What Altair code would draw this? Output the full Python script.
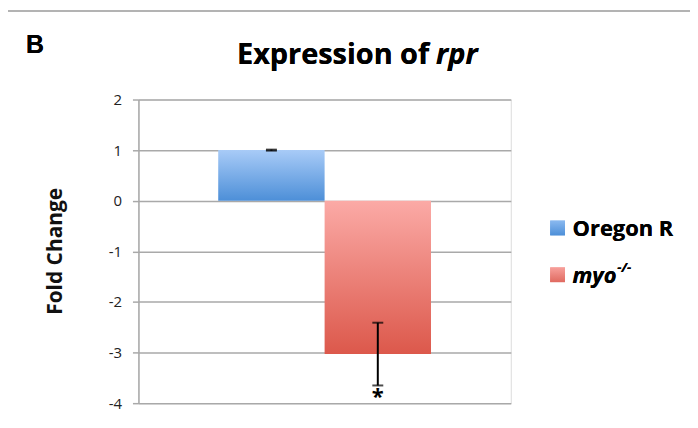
import altair as alt
import pandas as pd

series = ["Oregon R", "myo"]
values = [1.0, -3.03]
errors = [0.01, 0.62]
y_ticks = [-4, -3, -2, -1, 0, 1, 2]

df = pd.DataFrame({"series": series, "value": values, "err": errors})
df["lo"] = df["value"] - df["err"]
df["hi"] = df["value"] + df["err"]

FONT = "Open Sans"

def grad(top, bottom):
    return alt.Gradient(
        gradient="linear",
        stops=[alt.GradientStop(color=top, offset=0), alt.GradientStop(color=bottom, offset=1)],
        x1=0, x2=0, y1=0, y2=1,
    )

blue_g = grad("#a8cbf7", "#4d8fd8")
red_g = grad("#fbaaa6", "#dc584b")

xscale = alt.Scale(domain=series, paddingInner=0, paddingOuter=0.75)
x_enc = alt.X("series:N", scale=xscale, axis=None)
yscale = alt.Scale(domain=[-4, 2], nice=False, zero=False)
y_enc = alt.Y(
    "value:Q",
    scale=yscale,
    axis=alt.Axis(
        values=y_ticks, grid=True, gridColor="#a9a9a9", gridWidth=1.5,
        domainColor="#a9a9a9", domainWidth=1.5, tickColor="#a9a9a9", tickWidth=1.5, tickSize=6,
        labelExpr="datum.value + ''",
        labelFont=FONT, labelFontSize=15, labelColor="#222", labelPadding=11,
        title="Fold Change", titleFont=FONT, titleFontSize=21, titleFontWeight="bold",
        titleColor="#111", titleAngle=-90, titleX=-77, titleY=152, titleAlign="center",
        titleBaseline="alphabetic",
    ),
)

base = alt.Chart(df)

bar_blue = base.transform_filter(alt.datum.series == series[0]).mark_bar(color=blue_g).encode(x=x_enc, y=y_enc, y2=alt.datum(0))
bar_red = base.transform_filter(alt.datum.series == series[1]).mark_bar(color=red_g).encode(x=x_enc, y=y_enc, y2=alt.datum(0))

err_rule = base.mark_rule(color="black", strokeWidth=2).encode(x=x_enc, y=alt.Y("lo:Q", scale=yscale), y2="hi:Q")
cap_lo = base.mark_tick(color="black", thickness=2, size=11).encode(x=x_enc, y=alt.Y("lo:Q", scale=yscale))
cap_hi = base.mark_tick(color="black", thickness=2, size=11).encode(x=x_enc, y=alt.Y("hi:Q", scale=yscale))

star = base.transform_filter(alt.datum.series == series[1]).mark_text(
    text="*", font=FONT, fontSize=22, fontWeight="bold", baseline="top", dy=2, color="black"
).encode(x=x_enc, y=alt.Y("lo:Q", scale=yscale))

# figure frame
frame_top = alt.Chart(df).mark_rule(color="#b3b3b3", strokeWidth=2).encode(
    x=alt.value(-134), x2=alt.value(600), y=alt.value(-89))
frame_left = alt.Chart(df).mark_rule(color="#b3b3b3", strokeWidth=2).encode(
    x=alt.value(-134), y=alt.value(-89), y2=alt.value(340))

# titles
panel = alt.Chart(df).mark_text(text="B", font="Liberation Sans", fontSize=25, fontWeight="bold",
                                align="left", baseline="alphabetic", color="black").encode(
    x=alt.value(-113), y=alt.value(-47))
title1 = alt.Chart(df).mark_text(text="Expression of", font=FONT, fontSize=29, fontWeight="bold",
                                 align="right", baseline="alphabetic", color="black").encode(
    x=alt.value(292), y=alt.value(-36))
title2 = alt.Chart(df).mark_text(text="rpr", font=FONT, fontSize=29, fontWeight="bold", fontStyle="italic",
                                 align="left", baseline="alphabetic", color="black").encode(
    x=alt.value(299), y=alt.value(-36))

# legend
leg_sq1 = alt.Chart(df).mark_square(size=220, color=grad("#8ab9f0", "#4d8fd8"), opacity=1).encode(
    x=alt.value(421), y=alt.value(129))
leg_sq2 = alt.Chart(df).mark_square(size=220, color=grad("#f7a09b", "#e06a60"), opacity=1).encode(
    x=alt.value(421), y=alt.value(176))
leg_t1 = alt.Chart(df).mark_text(text=series[0], font=FONT, fontSize=22, fontWeight="bold",
                                 align="left", baseline="middle", color="black").encode(
    x=alt.value(436), y=alt.value(130))
leg_t2 = alt.Chart(df).mark_text(text=series[1], font=FONT, fontSize=22, fontWeight="bold", fontStyle="italic",
                                 align="left", baseline="middle", color="black").encode(
    x=alt.value(436), y=alt.value(177))
leg_t2s = alt.Chart(df).mark_text(text="-/-", font=FONT, fontSize=13, fontWeight="bold", fontStyle="italic",
                                  align="left", baseline="middle", color="black").encode(
    x=alt.value(481), y=alt.value(169))

chart = alt.layer(
    bar_blue, bar_red, err_rule, cap_lo, cap_hi, star,
    frame_top, frame_left, panel, title1, title2,
    leg_sq1, leg_sq2, leg_t1, leg_t2, leg_t2s,
).properties(
    width=374, height=305,
    autosize=alt.AutoSizeParams(type="none"),
    padding={"left": 131, "top": 91, "right": 180, "bottom": 20},
).configure_view(stroke=None).configure(background="white")

chart.save("out.html", embed_options={"renderer": "svg", "actions": False})
